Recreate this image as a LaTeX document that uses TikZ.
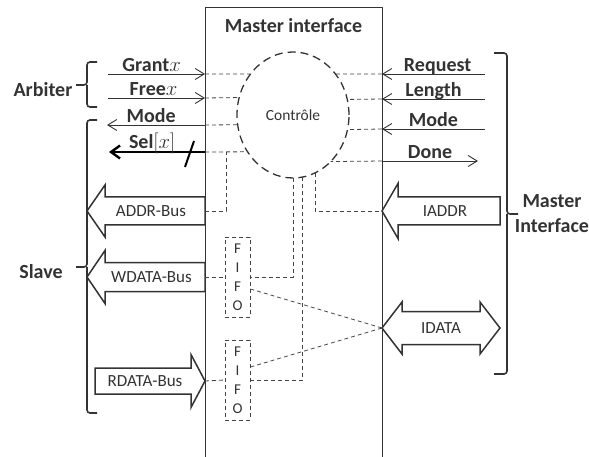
\documentclass[tikz,border=0pt]{standalone}
\usepackage{fontspec}
\setmainfont{Carlito}
\usepackage{tikz}
\usetikzlibrary{arrows.meta,positioning,shapes.geometric}
\definecolor{dgInk}{HTML}{333333}
\definecolor{dgWire}{HTML}{444444}
\tikzset{
  dg diagram/.style={x=1pt, y=-1pt, text=dgInk, line join=round},
  dg frame/.style={draw=dgInk, line width=1pt},
  dg title/.style={font=\bfseries\fontsize{20}{24}\selectfont},
  dg signal/.style={-{Straight Barb[length=9pt,width=11pt]}, draw=dgInk, line width=0.9pt},
  dg bundle/.style={-{Straight Barb[length=9pt,width=13pt]}, draw=black, line width=2.4pt},
  dg label/.style={above, inner sep=2pt, text depth=0pt,
    font=\bfseries\fontsize{20}{24}\selectfont},
  dg wire/.style={draw=dgWire, line width=0.8pt, dash pattern=on 4pt off 3pt},
  dg ctrl/.style={ellipse, draw=dgInk, line width=1.3pt, dash pattern=on 8pt off 5pt,
    minimum width=112pt, minimum height=126pt, inner sep=0pt, outer sep=0pt,
    font=\fontsize{15.5}{18}\selectfont},
  dg fifo/.style={draw=dgWire, line width=0.8pt, dash pattern=on 4pt off 3pt,
    minimum width=25pt, minimum height=80pt, inner sep=0pt, align=center,
    font=\fontsize{15}{19}\selectfont},
  dg bus/.style={draw=dgInk, fill=white, line width=1.5pt, line join=miter},
  dg bus text/.style={font=\fontsize{17}{20}\selectfont},
  dg brace/.style={draw=dgInk, line width=1.6pt, rounded corners=3pt},
  dg side/.style={font=\bfseries\fontsize{20}{25}\selectfont, align=center}
}
\begin{document}
\begin{tikzpicture}[dg diagram]
\useasboundingbox (0,0) rectangle (589,457);

% the master interface block
\draw[dg frame] (205,457) -- (205,8) -- (382,8) -- (382,457);
\node[dg title] (title) at (293.5,26) {Master interface};
\node[dg ctrl] (ctrl) at (293,115) {Contrôle};
\node[dg fifo] (fifo-w) at (237.5,277) {F\\I\\F\\O};
\node[dg fifo] (fifo-r) at (237.5,380) {F\\I\\F\\O};

% end points of the signals
\coordinate (grant-w) at (108,74);  \coordinate (grant-e) at (205,74);
\coordinate (free-w) at (108,98);   \coordinate (free-e) at (205,98);
\coordinate (mode-w) at (107,125);  \coordinate (mode-e) at (205,125);
\coordinate (sel-w) at (109,152);   \coordinate (sel-e) at (205,152);
\coordinate (sel-j) at (226,152);
\coordinate (req-w) at (382,74);    \coordinate (req-e) at (485,74);
\coordinate (len-w) at (382,99);    \coordinate (len-e) at (485,99);
\coordinate (mdi-w) at (382,129);   \coordinate (mdi-e) at (485,129);
\coordinate (done-w) at (382,161);  \coordinate (done-e) at (478,161);

% arbiter and slave side
\draw[dg signal] (grant-w) -- node[dg label,pos=.45] (grant) {Grant$x$} (grant-e);
\draw[dg signal] (free-w) -- node[dg label,pos=.47] (free) {Free$x$} (free-e);
\draw[dg signal] (mode-e) -- node[dg label,pos=.55] (mode) {Mode} (mode-w);
\draw[dg bundle] (sel-e) -- node[dg label,pos=.55] (sel) {Sel$[x]$} (sel-w);
\draw[black, line width=2pt] (185,167) -- (194,141);

% master side
\draw[dg signal] (req-e) -- node[dg label,pos=.46] (req) {Request} (req-w);
\draw[dg signal] (len-e) -- node[dg label] (len) {Length} (len-w);
\draw[dg signal] (mdi-e) -- node[dg label] (mdi) {Mode} (mdi-w);
\draw[dg signal] (done-w) -- node[dg label] (done) {Done} (done-e);

% buses
\draw[dg bus] (205,197) -- (105,197) -- (105,185) -- (87,211) -- (105,237)
  -- (105,225) -- (205,225) -- cycle;
\node[dg bus text] (addr) at (151,211) {ADDR-Bus};
\coordinate (addr-e) at (205,211);
\draw[dg bus] (205,262.5) -- (105,262.5) -- (105,250.5) -- (87,277) -- (105,303.5)
  -- (105,291.5) -- (205,291.5) -- cycle;
\node[dg bus text] (wdata) at (151.5,277) {WDATA-Bus};
\coordinate (wdata-e) at (205,277);
\draw[dg bus] (95,368) -- (191,368) -- (191,354.5) -- (205,381) -- (191,407.5)
  -- (191,394) -- (95,394) -- cycle;
\node[dg bus text] (rdata) at (145,381) {RDATA-Bus};
\coordinate (rdata-tip) at (205,381);
\draw[dg bus] (500,197) -- (398,197) -- (398,183.5) -- (382,211) -- (398,238.5)
  -- (398,225) -- (500,225) -- cycle;
\node[dg bus text] (iaddr) at (445,211) {IADDR};
\coordinate (iaddr-tip) at (382,211);
\draw[dg bus] (382,328) -- (402,302) -- (402,311.5) -- (480,311.5) -- (480,302)
  -- (500,328) -- (480,354) -- (480,344.5) -- (402,344.5) -- (402,354) -- cycle;
\node[dg bus text] (idata) at (441,328) {IDATA};
\coordinate (idata-w) at (382,328);

% dashed links inside
\draw[dg wire] (grant-e) -- (ctrl.136);
\draw[dg wire] (free-e) -- (ctrl.162.5);
\draw[dg wire] (mode-e) -- (ctrl.190.2);
\draw[dg wire] (sel-e) -- (ctrl.219.2);
\draw[dg wire] (req-w) -- (ctrl.44);
\draw[dg wire] (len-w) -- (ctrl.16.4);
\draw[dg wire] (mdi-w) -- (ctrl.345.6);
\draw[dg wire] (done-w) -- (ctrl.309.8);
\draw[dg wire] (addr-e) -| (sel-j);
\draw[dg wire] (wdata-e) -- (fifo-w.west);
\draw[dg wire] (rdata-tip) -- (fifo-r.west);
\draw[dg wire] (ctrl.270) |- (fifo-w.east);
\draw[dg wire] (ctrl.279.2) |- (fifo-r.east);
\draw[dg wire] (ctrl.291.8) |- (iaddr-tip);
\draw[dg wire] ([yshift=-12pt]fifo-w.east) -- (idata-w);
\draw[dg wire] ([yshift=13pt]fifo-r.east) -- (idata-w);

% braces and side names
\draw[dg brace] (97,62) -| (87,85) -- (76,85);
\draw[dg brace] (87,85) |- (97,107);
\node[dg side] (arbiter) at (43,90) {Arbiter};
\draw[dg brace] (97,120) -| (87,267) -- (76,267);
\draw[dg brace] (87,267) |- (97,413);
\node[dg side] (slave) at (41,272) {Slave};
\draw[dg brace] (494,53) -| (507,214) -- (518,214);
\draw[dg brace] (507,214) |- (494,374);
\node[dg side] (master) at (552,214) {Master\\Interface};
\end{tikzpicture}
\end{document}
